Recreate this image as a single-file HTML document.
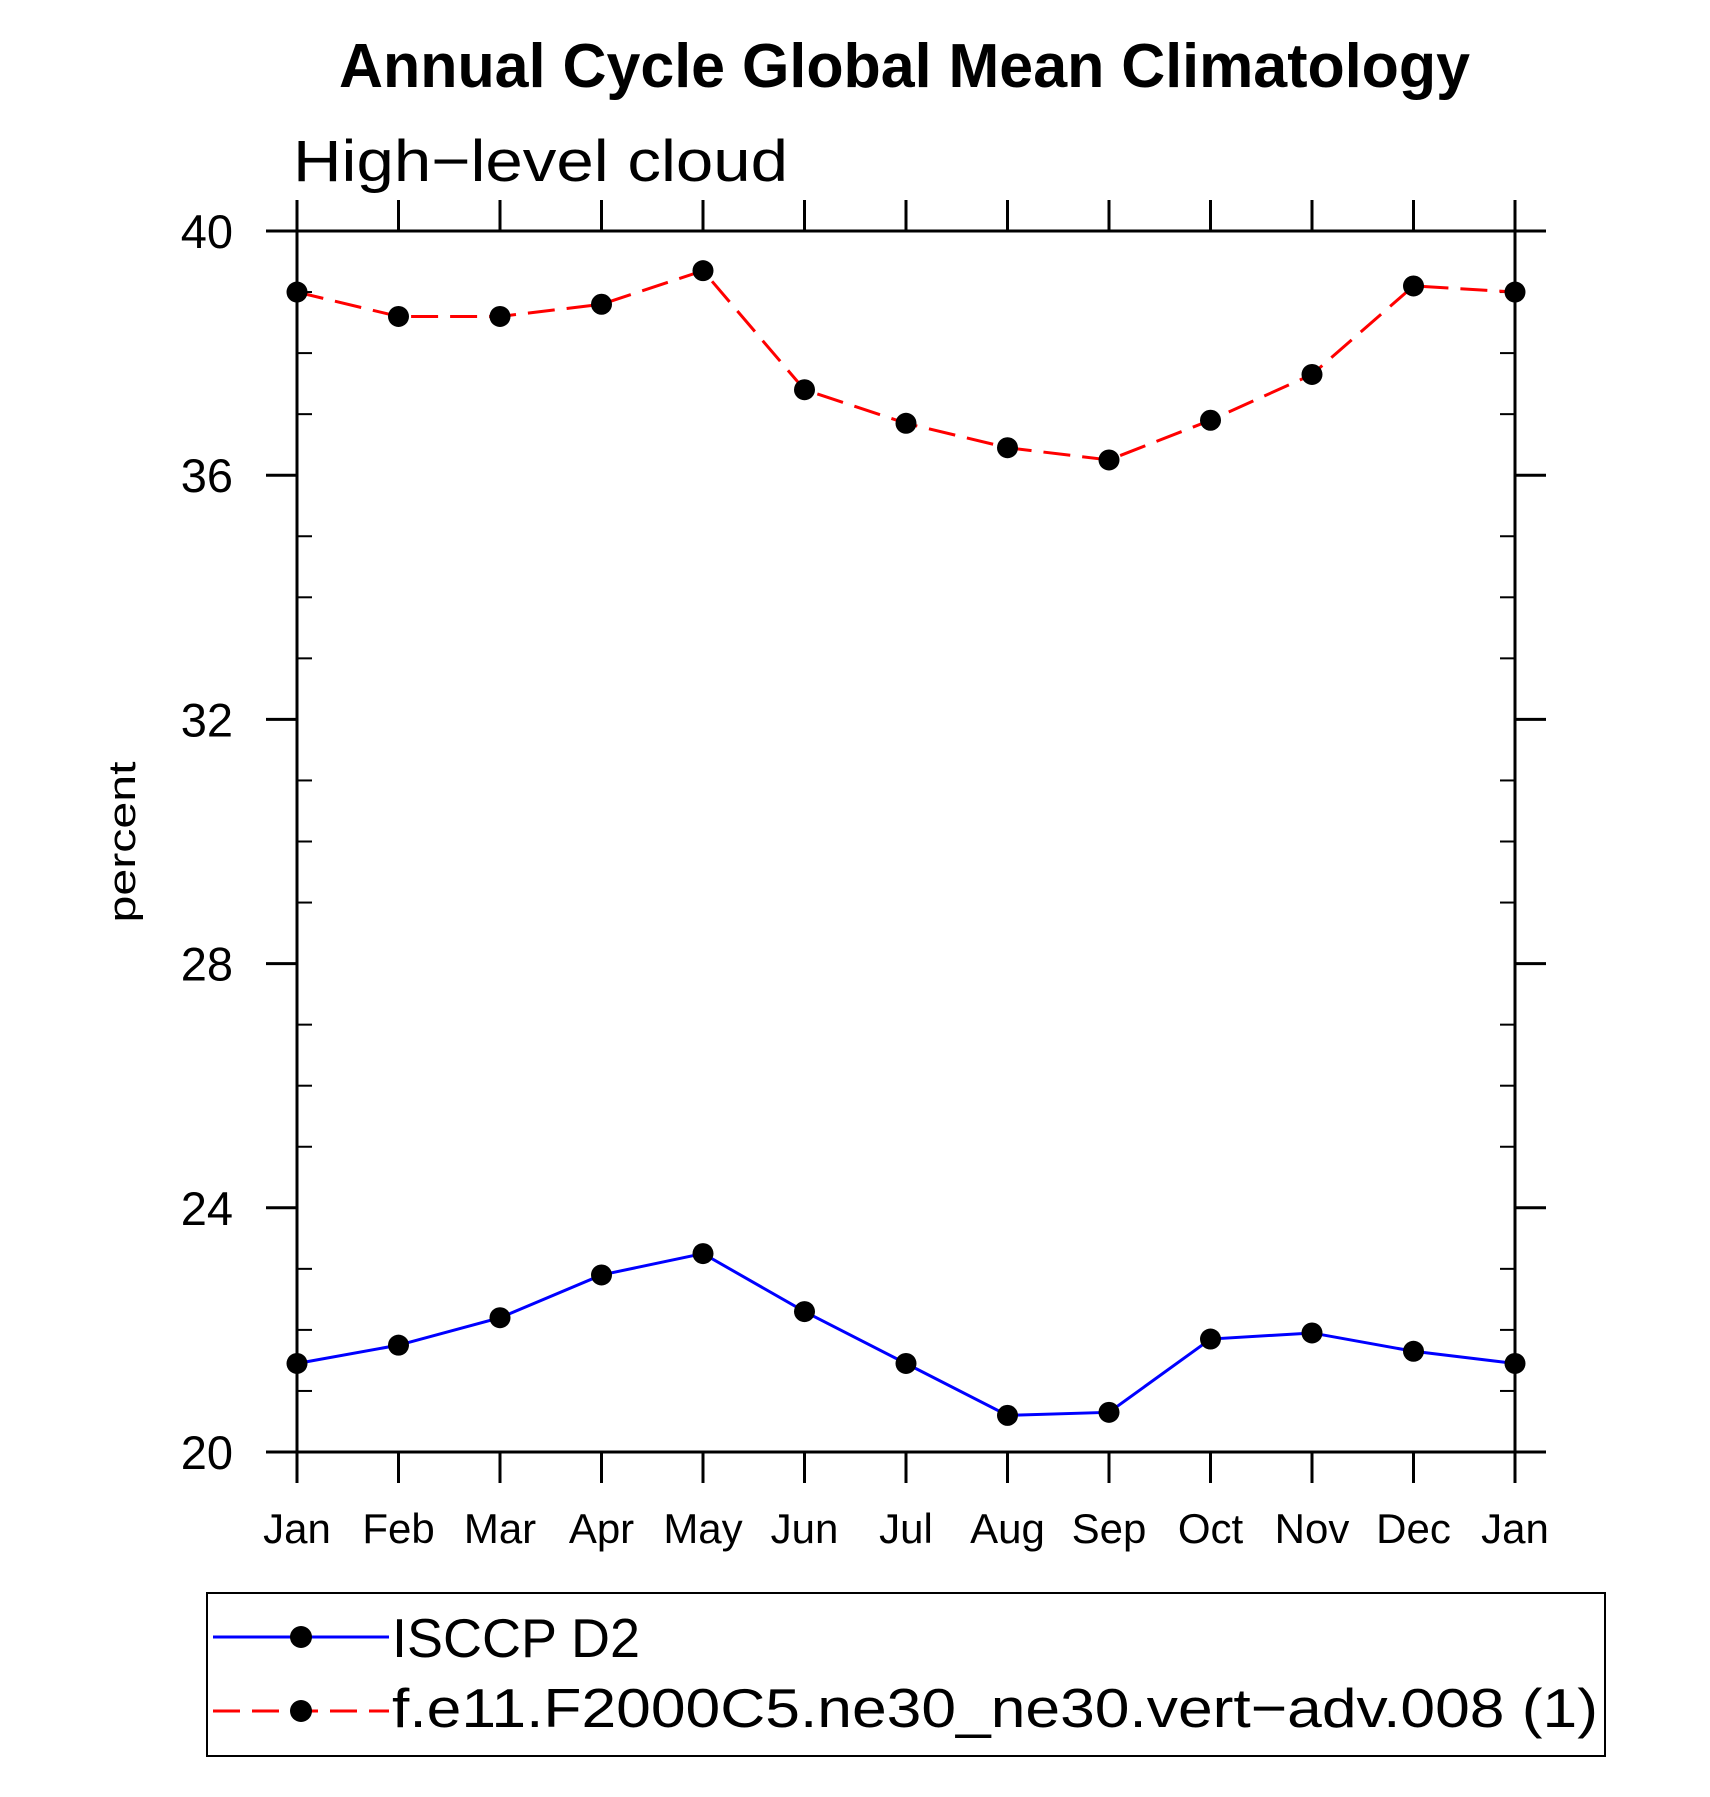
<!DOCTYPE html>
<html><head><meta charset="utf-8"><style>
html,body{margin:0;padding:0;background:#fff;}
svg{display:block;}
text{font-family:"Liberation Sans",sans-serif;}
</style></head><body>
<svg id="chart" width="1710" height="1797" viewBox="0 0 1710 1797" xmlns="http://www.w3.org/2000/svg">
<rect width="1710" height="1797" fill="#fff"/>
<text x="339" y="87" font-size="62" font-weight="bold" textLength="1131" lengthAdjust="spacingAndGlyphs">Annual Cycle Global Mean Climatology</text>
<text x="293" y="181" font-size="58" font-weight="300" textLength="495" lengthAdjust="spacingAndGlyphs">High−level cloud</text>
<text transform="translate(135,842) rotate(-90)" text-anchor="middle" font-size="38" textLength="161" lengthAdjust="spacingAndGlyphs">percent</text>
<g id="axes"></g>
<g id="series"></g>
<g>
<rect x="207" y="1593" width="1398" height="163" fill="none" stroke="#000" stroke-width="2"/>
<line x1="213" y1="1637" x2="389" y2="1637" stroke="#0000ff" stroke-width="3"/>
<circle cx="301" cy="1637" r="11" fill="#000"/>
<text x="392" y="1657" font-size="55" textLength="248" lengthAdjust="spacingAndGlyphs">ISCCP D2</text>
<line x1="213" y1="1711" x2="389" y2="1711" stroke="#ff0000" stroke-width="3" stroke-dasharray="27,12"/>
<circle cx="301" cy="1711" r="11" fill="#000"/>
<text x="392" y="1727" font-size="55" textLength="1206" lengthAdjust="spacingAndGlyphs">f.e11.F2000C5.ne30_ne30.vert−adv.008 (1)</text>
</g>
</svg>
<script>
const months = ["Jan","Feb","Mar","Apr","May","Jun","Jul","Aug","Sep","Oct","Nov","Dec","Jan"];
const isccpValues = [21.45,21.75,22.2,22.9,23.25,22.3,21.45,20.6,20.65,21.85,21.95,21.65,21.45];
const modelValues = [39.0,38.6,38.6,38.8,39.35,37.4,36.85,36.45,36.25,36.9,37.65,39.1,39.0];
const yTickLabels = [20,24,28,32,36,40];
const yMin = 20, yMax = 40;

const NS = "http://www.w3.org/2000/svg";
const L = 297, R = 1515, T = 231, B = 1452;
function xScale(i){ return L + (R - L) * i / (months.length - 1); }
function yScale(v){ return B - (B - T) * (v - yMin) / (yMax - yMin); }
function mk(tag, attrs, parent){
  const e = document.createElementNS(NS, tag);
  for (const k in attrs) e.setAttribute(k, attrs[k]);
  parent.appendChild(e); return e;
}
const axes = document.getElementById("axes");
const series = document.getElementById("series");
const frame = mk("rect", {x:L, y:T, width:R-L, height:B-T, fill:"none", stroke:"#000", "stroke-width":3}, axes);


// x ticks
months.forEach((m, i) => {
  const x = xScale(i);
  const t1 = mk("line", {x1:x, y1:B-0, x2:x, y2:B+31, stroke:"#000", "stroke-width":3}, axes);
  
  
  const t2 = mk("line", {x1:x, y1:T, x2:x, y2:T-31, stroke:"#000", "stroke-width":3}, axes);
  
  
  const lb = mk("text", {x:x, y:1543, "text-anchor":"middle", "font-size":42, "font-weight":300}, axes);
  lb.textContent = m;
  
  
});
// y minor ticks
for (let v = yMin; v <= yMax; v++) {
  const y = yScale(v);
  const major = yTickLabels.includes(v);
  const len = major ? 31 : 15;
  const a = mk("line", {x1:L-(major?31:0), y1:y, x2:L+(major?0:len), y2:y, stroke:"#000", "stroke-width":major?3:2}, axes);
  
  
  const b = mk("line", {x1:R-(major?0:len), y1:y, x2:R+(major?31:0), y2:y, stroke:"#000", "stroke-width":major?3:2}, axes);
  
  
}
yTickLabels.forEach(v => {
  const lb = mk("text", {x:233, y:yScale(v)+17, "text-anchor":"end", "font-size":47, "font-weight":300}, axes);
  lb.textContent = String(v);
  
  
});
function drawSeries(vals, color, dash, name){
  const pts = vals.map((v,i) => xScale(i) + "," + yScale(v)).join(" ");
  const pl = mk("polyline", {points:pts, fill:"none", stroke:color, "stroke-width":3, "stroke-dasharray":dash}, series);
  
  
  vals.forEach((v,i) => {
    const c = mk("circle", {cx:xScale(i), cy:yScale(v), r:10.5, fill:"#000"}, series);
    
    
  });
}
drawSeries(isccpValues, "#0000ff", "none", "isccp");
drawSeries(modelValues, "#ff0000", "27,12", "model");
</script>
</body></html>
